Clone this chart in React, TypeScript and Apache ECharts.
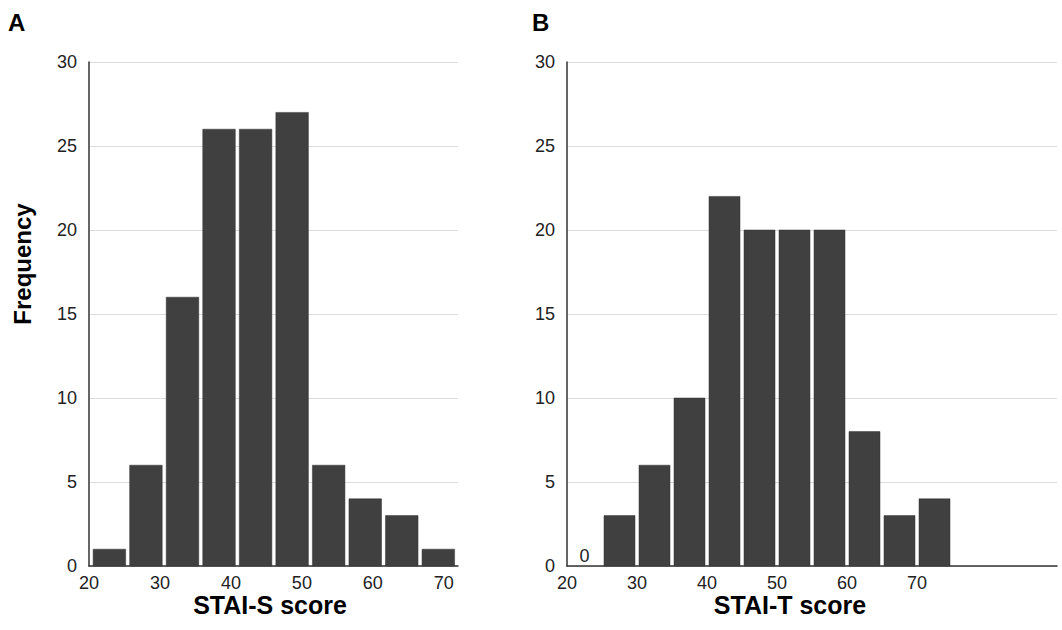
import React, { useEffect, useRef } from "react";
import * as echarts from "echarts";

// Panel A: STAI-S histogram (bins of ~5.15 points starting at 20.3)
const staiSBinStart = 20.3;
const staiSBinWidth = 5.15;
const staiSCounts = [1, 6, 16, 26, 26, 27, 6, 4, 3, 1];

// Panel B: STAI-T histogram (bins of 5 points starting at 20)
const staiTBinStart = 20;
const staiTBinWidth = 5;
const staiTCounts = [0, 3, 6, 10, 22, 20, 20, 20, 8, 3, 4];

const yTickMax = 30;
const yTickStep = 5;
const xTickStep = 10;
const xLabelMaxShown = 70;

const FONT = '"Liberation Sans", Arial, Helvetica, sans-serif';
const BAR_COLOR = "#404040";

function toBins(start: number, width: number, counts: number[]) {
  return counts.map((c, i) => [start + i * width, start + (i + 1) * width, c]);
}

function renderBar(params: any, api: any) {
  const x0 = api.value(0);
  const x1 = api.value(1);
  const c = api.value(2);
  const pBase0 = api.coord([x0, 0]);
  const pTop1 = api.coord([x1, c]);
  const gap = 2;
  const left = pBase0[0] + gap;
  const right = pTop1[0] - gap;
  if (c === 0) {
    return {
      type: "text",
      style: {
        text: "0",
        x: (pBase0[0] + pTop1[0]) / 2,
        y: pBase0[1] - 1,
        align: "center",
        verticalAlign: "bottom",
        fontSize: 18,
        fontFamily: FONT,
        fill: "#222",
      },
    };
  }
  return {
    type: "rect",
    shape: { x: left, y: pTop1[1], width: right - left, height: pBase0[1] - pTop1[1] },
    style: { fill: BAR_COLOR, stroke: "#333", lineWidth: 0.5 },
  };
}

export default function App() {
  const ref = useRef<HTMLDivElement>(null);
  useEffect(() => {
    if (!ref.current) return;
    const chart = echarts.init(ref.current, null, { renderer: "svg" });
    const yAxisCommon = {
      type: "value" as const,
      min: 0,
      max: yTickMax,
      interval: yTickStep,
      axisLine: { show: true, lineStyle: { color: "#333", width: 1.5 } },
      axisTick: { show: false },
      axisLabel: { fontSize: 18, color: "#222", fontFamily: FONT, margin: 12 },
      splitLine: { show: true, lineStyle: { color: "#dcdcdc", width: 1 } },
    };
    const xAxisCommon = {
      type: "value" as const,
      min: 20,
      interval: xTickStep,
      axisLine: { show: true, onZero: false, lineStyle: { color: "#333", width: 1.5 } },
      axisTick: { show: false },
      splitLine: { show: false },
      axisLabel: {
        fontSize: 18,
        color: "#222",
        fontFamily: FONT,
        margin: 8,
        formatter: (v: number) => (v <= xLabelMaxShown ? String(v) : ""),
      },
    };
    chart.setOption({
      animation: false,
      backgroundColor: "#fff",
      grid: [
        { left: 89, right: 1062 - 458, top: 62, bottom: 630 - 566 },
        { left: 567, right: 5, top: 62, bottom: 630 - 566 },
      ],
      xAxis: [
        { ...xAxisCommon, gridIndex: 0, max: 72 },
        { ...xAxisCommon, gridIndex: 1, max: 90 },
      ],
      yAxis: [
        { ...yAxisCommon, gridIndex: 0 },
        { ...yAxisCommon, gridIndex: 1 },
      ],
      series: [
        {
          type: "custom",
          xAxisIndex: 0,
          yAxisIndex: 0,
          renderItem: renderBar,
          data: toBins(staiSBinStart, staiSBinWidth, staiSCounts),
          encode: { x: [0, 1], y: 2 },
        },
        {
          type: "custom",
          xAxisIndex: 1,
          yAxisIndex: 1,
          renderItem: renderBar,
          data: toBins(staiTBinStart, staiTBinWidth, staiTCounts),
          encode: { x: [0, 1], y: 2 },
        },
      ],
      graphic: [
        { type: "text", left: 8, top: 10, style: { text: "A", fontSize: 24, fontWeight: "bold", fontFamily: FONT, fill: "#000" } },
        { type: "text", left: 532, top: 10, style: { text: "B", fontSize: 24, fontWeight: "bold", fontFamily: FONT, fill: "#000" } },
        {
          type: "text",
          x: 22,
          y: 264,
          rotation: Math.PI / 2,
          style: { text: "Frequency", fontSize: 24, fontWeight: "bold", fontFamily: FONT, fill: "#000", align: "center", verticalAlign: "middle" },
        },
        {
          type: "text",
          x: 270,
          y: 605,
          style: { text: "STAI-S score", fontSize: 25, fontWeight: "bold", fontFamily: FONT, fill: "#000", align: "center", verticalAlign: "middle" },
        },
        {
          type: "text",
          x: 790,
          y: 605,
          style: { text: "STAI-T score", fontSize: 25, fontWeight: "bold", fontFamily: FONT, fill: "#000", align: "center", verticalAlign: "middle" },
        },
      ],
    });
    return () => chart.dispose();
  }, []);
  return <div ref={ref} style={{ position: "fixed", left: 0, top: 0, width: 1062, height: 630 }} />;
}
